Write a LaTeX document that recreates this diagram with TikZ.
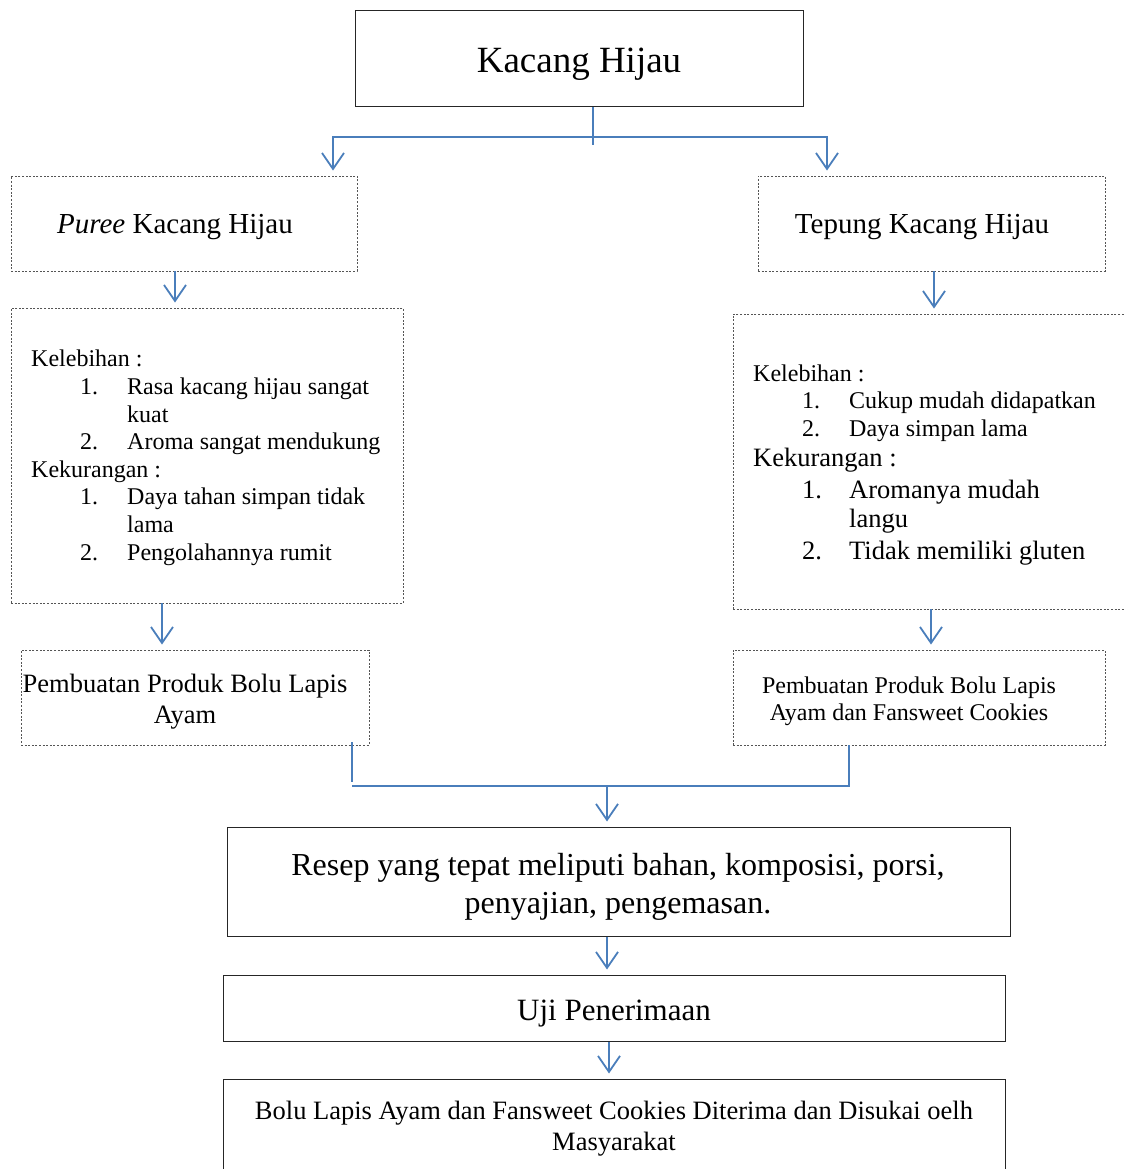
\documentclass[tikz,border=0pt]{standalone}
\usepackage{fontspec}
\setmainfont{Liberation Serif}
\usetikzlibrary{arrows.meta}
\definecolor{linkblue}{HTML}{4A7EBB}
\definecolor{boxgray}{HTML}{555555}
\tikzset{
  solidbox/.style={draw=black!85, line width=1pt, rectangle, inner sep=0pt},
  dotbox/.style={draw=boxgray, line width=0.9pt, dash pattern=on 2pt off 1.6pt, rectangle, inner sep=0pt},
  txt/.style={inner sep=0pt, align=center},
  ltxt/.style={inner sep=0pt, anchor=base west},
  link/.style={draw=linkblue, line width=1.8pt},
  arr/.style={link, -{Straight Barb[length=16pt,width=22pt,line width=1.8pt]}, shorten >=5pt},
}
\newcommand{\fs}[2]{\fontsize{#1}{#2}\selectfont}
\begin{document}
\begin{tikzpicture}[x=1pt,y=-1pt]
\useasboundingbox (0,0) rectangle (1124,1169);
\clip (0,0) rectangle (1124,1169);

% --- boxes ---
\node[solidbox, minimum width=448pt, minimum height=96pt] (top) at (579,59) {};
\node[txt, font=\fs{37}{44}] (toptxt) at (579,64) {Kacang Hijau};

\node[dotbox, minimum width=346pt, minimum height=95pt] (puree) at (184,223.5) {};
\node[txt, font=\fs{29}{34}] (pureetxt) at (175,227.5) {\textit{Puree} Kacang Hijau};

\node[dotbox, minimum width=347pt, minimum height=95pt] (tepung) at (931.5,223.5) {};
\node[txt, font=\fs{29}{34}] (tepungtxt) at (922,227.5) {Tepung Kacang Hijau};

\node[dotbox, minimum width=392pt, minimum height=295pt] (listL) at (207,455.5) {};
\node[dotbox, minimum width=397pt, minimum height=295pt] (listR) at (931.5,461.5) {};

\node[dotbox, minimum width=348pt, minimum height=95pt] (pemL) at (195,697.5) {};
\node[txt, font=\fs{26.5}{31}] (pemLtxt) at (185,702) {Pembuatan Produk Bolu Lapis\\Ayam};

\node[dotbox, minimum width=372pt, minimum height=95pt] (pemR) at (919,697.5) {};
\node[txt, font=\fs{24}{27.5}] (pemRtxt) at (909,701.5) {Pembuatan Produk Bolu Lapis\\Ayam dan Fansweet Cookies};

\node[solidbox, minimum width=783pt, minimum height=109pt] (resep) at (618.5,881.5) {};
\node[txt, font=\fs{32}{38}] (reseptxt) at (618,887) {Resep yang tepat meliputi bahan, komposisi, porsi,\\penyajian, pengemasan.};

\node[solidbox, minimum width=782pt, minimum height=66pt] (uji) at (614,1008) {};
\node[txt, font=\fs{31}{36}] (ujitxt) at (614,1014) {Uji Penerimaan};

\node[solidbox, minimum width=782pt, minimum height=120pt] (hasil) at (614,1139) {};
\node[txt, font=\fs{26.5}{31}] (hasiltxt) at (614,1128.5) {Bolu Lapis Ayam dan Fansweet Cookies Diterima dan Disukai oelh\\Masyarakat};

% --- left list ---
\begin{scope}[every node/.style={ltxt, font=\fs{24}{28}}]
\node (lk1) at (31,366) {Kelebihan :};
\node (ln1) at (80,394) {1.};
\node (li1) at (127,394) {Rasa kacang hijau sangat};
\node (li1b) at (127,422) {kuat};
\node (ln2) at (80,449) {2.};
\node (li2) at (127,449) {Aroma sangat mendukung};
\node (lk2) at (31,477) {Kekurangan :};
\node (ln3) at (80,504) {1.};
\node (li3) at (127,504) {Daya tahan simpan tidak};
\node (li3b) at (127,532) {lama};
\node (ln4) at (80,560) {2.};
\node (li4) at (127,560) {Pengolahannya rumit};
\end{scope}

% --- right list ---
\begin{scope}[every node/.style={ltxt, font=\fs{24}{28}}]
\node (rk1) at (753,381) {Kelebihan :};
\node (rn1) at (802,408) {1.};
\node (ri1) at (849,408) {Cukup mudah didapatkan};
\node (rn2) at (802,436) {2.};
\node (ri2) at (849,436) {Daya simpan lama};
\end{scope}
\begin{scope}[every node/.style={ltxt, font=\fs{26.5}{30}}]
\node (rk2) at (753,466) {Kekurangan :};
\node (rn3) at (802,498) {1.};
\node (ri3) at (849,498) {Aromanya mudah};
\node (ri3b) at (849,527) {langu};
\node (rn4) at (802,559) {2.};
\node (ri4) at (849,559) {Tidak memiliki gluten};
\end{scope}

% --- connectors ---
\coordinate (split) at (593,137);
\draw[link] (top.south -| split) -- ++(0,38);
\draw[arr] ([xshift=-1pt]split) -| ([xshift=149pt]puree.north);
\draw[arr] ([xshift=1pt]split) -| ([xshift=-104.5pt]tepung.north);

\draw[arr] ([xshift=-9pt]puree.south) -- ([xshift=-9pt]puree.south |- listL.north);
\draw[arr] ([xshift=2.5pt]tepung.south) -- ([xshift=2.5pt]tepung.south |- listR.north);
\draw[arr] ([xshift=-45pt]listL.south) -- ([xshift=-45pt]listL.south |- pemL.north);
\draw[arr] (listR.south -| 931,0) -- (pemR.north -| 931,0);

\coordinate (merge) at (607,786);
\draw[link] ([xshift=157pt,yshift=3pt]pemL.south) -- ++(0,40);
\draw[link] ([xshift=157pt]pemL.south |- merge) -| ([xshift=-70pt]pemR.south);
\draw[arr] (merge) -- (merge |- resep.north);
\draw[arr] (resep.south -| merge) -- (uji.north -| merge);
\draw[arr] ([xshift=-5pt]uji.south) -- ([xshift=-5pt]uji.south |- hasil.north);
\end{tikzpicture}
\end{document}
